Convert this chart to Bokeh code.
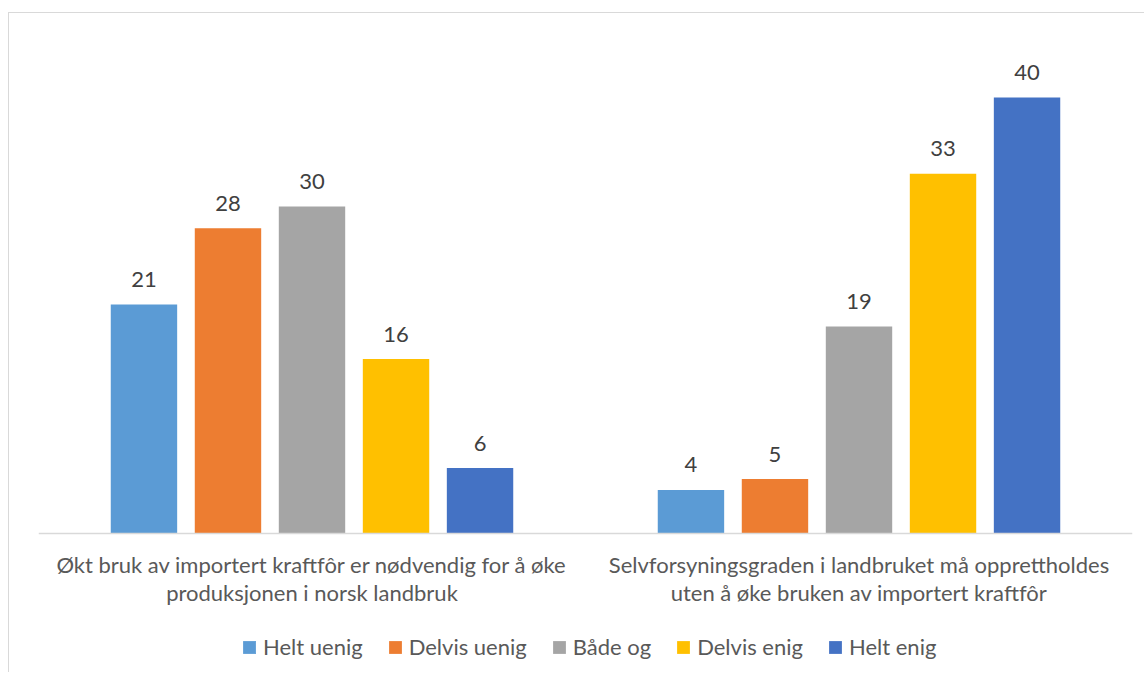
from bokeh.plotting import figure
from bokeh.models import ColumnDataSource, FactorRange, Range1d, LabelSet, Legend, LegendItem
from bokeh.transform import dodge
from bokeh.core.properties import value
from bokeh.embed import file_html
from bokeh.resources import INLINE

categories = [
    "Økt bruk av importert kraftfôr er nødvendig for å øke\nproduksjonen i norsk landbruk",
    "Selvforsyningsgraden i landbruket må opprettholdes\nuten å øke bruken av importert kraftfôr",
]
series_names = ["Helt uenig", "Delvis uenig", "Både og", "Delvis enig", "Helt enig"]
helt_uenig = [21, 4]
delvis_uenig = [28, 5]
baade_og = [30, 19]
delvis_enig = [16, 33]
helt_enig = [6, 40]
colors = ["#5B9BD5", "#ED7D31", "#A5A5A5", "#FFC000", "#4472C4"]

series_values = [helt_uenig, delvis_uenig, baade_og, delvis_enig, helt_enig]

FONT = "Lato"
PX_PER_UNIT = 10.9

data = {"cat": categories}
for i, vals in enumerate(series_values):
    data[f"s{i}"] = vals
    data[f"l{i}"] = [str(v) for v in vals]
source = ColumnDataSource(data)

p = figure(
    x_range=FactorRange(factors=categories),
    y_range=Range1d(-140 / PX_PER_UNIT, 490 / PX_PER_UNIT),
    width=1136, height=660,
    output_backend="svg", toolbar_location=None,
    min_border_left=29, min_border_right=13, min_border_top=30, min_border_bottom=0,
)
p.styles = {"border-left": "1px solid #d9d9d9", "border-top": "1px solid #d9d9d9",
            "margin-top": "12px", "margin-left": "8px"}
p.outline_line_color = None
p.xgrid.grid_line_color = None
p.ygrid.grid_line_color = None
p.yaxis.visible = False

step = 0.1536
width = 0.1214
items = []
for i, name in enumerate(series_names):
    off = (i - 2) * step
    r = p.vbar(x=dodge("cat", off, range=p.x_range), top=f"s{i}", width=width,
               source=source, fill_color=colors[i], line_color=None)
    items.append(LegendItem(label=name, renderers=[r]))
    lbl = LabelSet(x=dodge("cat", off, range=p.x_range), y=f"s{i}", text=f"l{i}",
                   source=source, text_align="center", text_baseline="alphabetic",
                   y_offset=17.5, text_font=value(FONT), text_font_size="22px",
                   text_color="#404040")
    p.add_layout(lbl)

ax = p.xaxis[0]
ax.fixed_location = 0
ax.axis_line_color = "#d9d9d9"
ax.axis_line_width = 1.5
ax.major_tick_line_color = None
ax.minor_tick_line_color = None
ax.major_label_text_font = FONT
ax.major_label_text_font_size = "22px"
ax.major_label_text_color = "#595959"
ax.major_label_standoff = 11
ax.major_label_text_line_height = 1.07
ax.major_label_text_align = "center"

legend = Legend(items=items, orientation="horizontal", location=(203, 13))
legend.label_text_font = FONT
legend.label_text_font_size = "22px"
legend.label_text_color = "#595959"
legend.glyph_width = 16
legend.glyph_height = 16
legend.label_standoff = 6
legend.spacing = 24
legend.padding = 0
legend.margin = 0
legend.border_line_color = None
legend.background_fill_alpha = 0
p.add_layout(legend, "center")

open("out.html", "w").write(file_html(p, INLINE))
